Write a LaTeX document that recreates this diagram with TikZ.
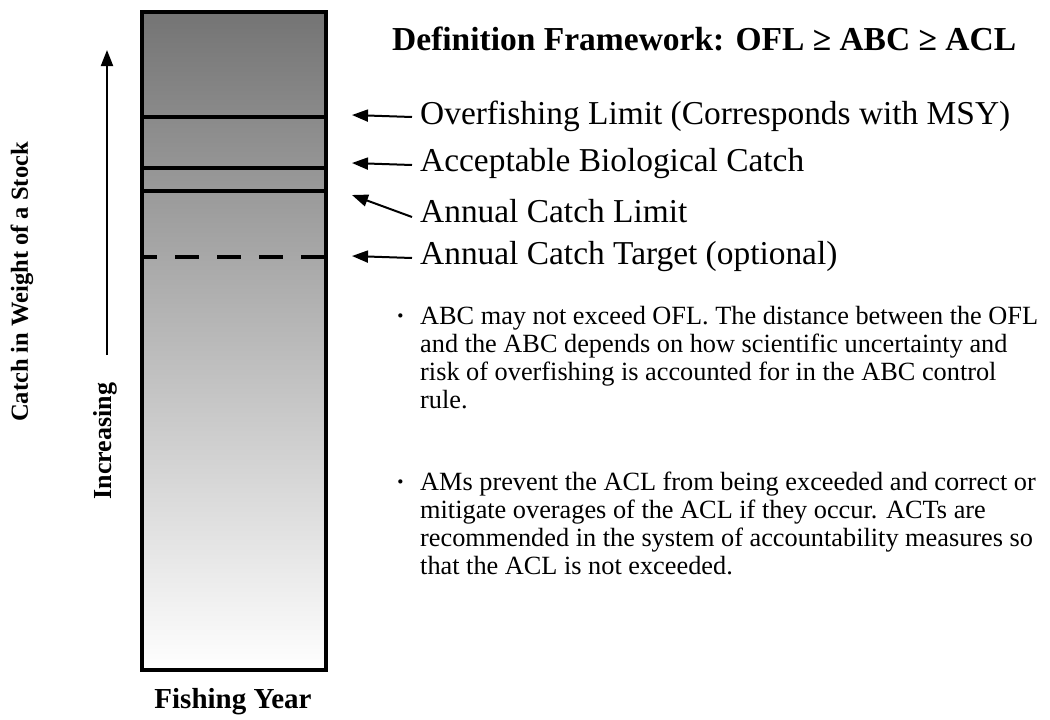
\documentclass[tikz,border=0pt]{standalone}
\usepackage{fontspec}
\setmainfont{Liberation Serif}
\usetikzlibrary{arrows.meta}
\definecolor{topgray}{RGB}{116,116,116}
\begin{document}
\begin{tikzpicture}[x=1pt,y=-1pt,
  barline/.style={line width=4.5pt},
  pointer/.style={line width=2pt,-{Triangle[length=16pt,width=12pt]}},
  lbl/.style={anchor=west,inner sep=0pt,font=\fontsize{33.4}{38}\selectfont},
  para/.style={anchor=base west,inner sep=0pt,align=left,font=\fontsize{26.3}{28}\selectfont},
  dotmark/.style={anchor=base west,inner sep=0pt,font=\bfseries\fontsize{26}{28}\selectfont},
  boldlbl/.style={inner sep=0pt,font=\bfseries\fontsize{26}{30}\selectfont}]
\useasboundingbox (0,0) rectangle (1050,720);
% bar
\shade[top color=topgray,bottom color=white] (142,12) rectangle (326,670);
\draw[barline] (142,117) -- (326,117);
\draw[barline] (142,168) -- (326,168);
\draw[barline] (142,191) -- (326,191);
\draw[barline,dash pattern=on 24pt off 18pt,dash phase=9pt] (142,257) -- (326,257);
\draw[barline] (142,12) rectangle (326,670);
% title
\node[anchor=base west,inner sep=0pt,font=\bfseries\fontsize{33.5}{40}\selectfont] (title) at (392,50) {Definition Framework: OFL ≥ ABC ≥ ACL};
% labels
\node[lbl] (lOFL) at (420,116) {Overfishing Limit (Corresponds with MSY)};
\node[lbl] (lABC) at (420,164) {Acceptable Biological Catch};
\node[lbl] (lACL) at (420,211) {Annual Catch Limit};
\node[lbl] (lACT) at (420,257) {Annual Catch Target (optional)};
\coordinate (tOFL) at (352,115);
\coordinate (tABC) at (352,163);
\coordinate (tACL) at (352,195);
\coordinate (tACT) at (352,256);
\draw[pointer] ([xshift=-8pt,yshift=-1pt]lOFL.west) -- (tOFL);
\draw[pointer] ([xshift=-8pt,yshift=-1pt]lABC.west) -- (tABC);
\draw[pointer] ([xshift=-8pt,yshift=-6pt]lACL.west) -- (tACL);
\draw[pointer] ([xshift=-8pt,yshift=-1pt]lACT.west) -- (tACT);
% left axis
\coordinate (axb) at (107,355);
\coordinate (axt) at (107,50);
\draw[pointer] (axb) -- (axt);
\node[boldlbl,rotate=90,font=\bfseries\fontsize{24.5}{28}\selectfont] (ylab) at (22,282) {Catch in Weight of a Stock};
\node[boldlbl,rotate=90] (inc) at (105,441) {Increasing};
\node[boldlbl,font=\bfseries\fontsize{29}{32}\selectfont] (xlab) at (233,702) {Fishing Year};
% bullets
\node[dotmark] (d1) at (396,324) {·};
\node[para] (b1) at (420,408) {ABC may not exceed OFL. The distance between the OFL\\and the ABC depends on how scientific uncertainty and\\risk of overfishing is accounted for in the ABC control\\rule.};
\node[dotmark] (d2) at (396,490) {·};
\node[para] (b2) at (420,574) {AMs prevent the ACL from being exceeded and correct or\\mitigate overages of the ACL if they occur. ACTs are\\recommended in the system of accountability measures so\\that the ACL is not exceeded.};
\end{tikzpicture}
\end{document}
